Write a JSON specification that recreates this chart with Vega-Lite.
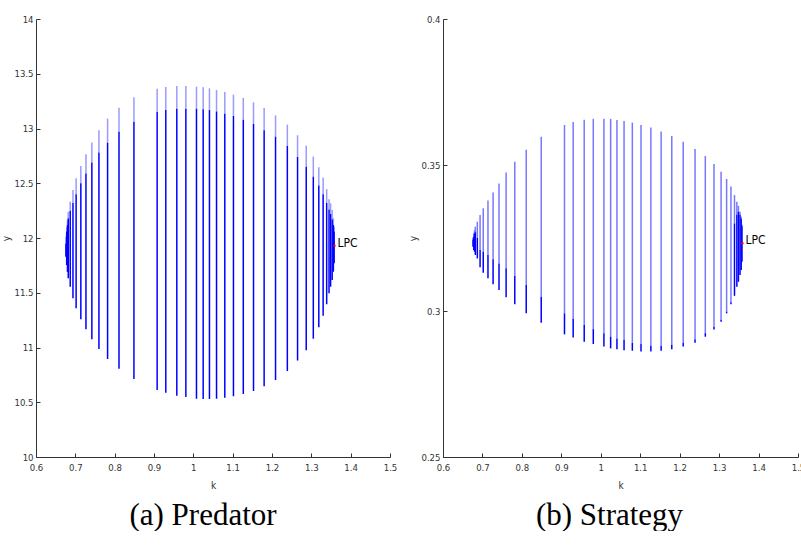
{
  "$schema": "https://vega.github.io/schema/vega-lite/v6.json",
  "background": "white",
  "padding": {"left": 1, "top": 14, "right": 0, "bottom": 0},
  "bounds": "flush",
  "spacing": 53,
  "config": {
    "view": {"stroke": null},
    "axis": {
      "grid": false,
      "domainColor": "#333333",
      "tickColor": "#333333",
      "labelColor": "#333333",
      "titleColor": "#333333",
      "labelFont": "Liberation Sans Narrow, DejaVu Sans Condensed, Liberation Sans",
      "titleFont": "Liberation Sans Narrow, DejaVu Sans Condensed, Liberation Sans",
      "labelFontSize": 9.5,
      "titleFontSize": 10,
      "titleFontWeight": "normal",
      "labelOverlap": false,
      "labelFlush": false,
      "tickSize": -4,
      "tickWidth": 1,
      "domainWidth": 1
    },
    "axisX": {"labelPadding": 9, "titlePadding": 9},
    "axisY": {"labelPadding": 7, "titlePadding": 2}
  },
  "datasets": {
    "pred": [
      {"k": 0.676, "ymin": 11.829, "ymid": 11.95, "ymax": 12.012},
      {"k": 0.678, "ymin": 11.753, "ymid": 12.06, "ymax": 12.098},
      {"k": 0.680, "ymin": 11.690, "ymid": 12.12, "ymax": 12.164},
      {"k": 0.682, "ymin": 11.632, "ymid": 12.18, "ymax": 12.240},
      {"k": 0.687, "ymin": 11.555, "ymid": 12.25, "ymax": 12.332},
      {"k": 0.694, "ymin": 11.449, "ymid": 12.32, "ymax": 12.438},
      {"k": 0.702, "ymin": 11.358, "ymid": 12.40, "ymax": 12.545},
      {"k": 0.714, "ymin": 11.257, "ymid": 12.50, "ymax": 12.658},
      {"k": 0.727, "ymin": 11.166, "ymid": 12.59, "ymax": 12.764},
      {"k": 0.742, "ymin": 11.075, "ymid": 12.69, "ymax": 12.872},
      {"k": 0.760, "ymin": 10.986, "ymid": 12.78, "ymax": 12.983},
      {"k": 0.782, "ymin": 10.895, "ymid": 12.87, "ymax": 13.090},
      {"k": 0.811, "ymin": 10.806, "ymid": 12.97, "ymax": 13.190},
      {"k": 0.849, "ymin": 10.712, "ymid": 13.06, "ymax": 13.285},
      {"k": 0.908, "ymin": 10.612, "ymid": 13.15, "ymax": 13.364},
      {"k": 0.930, "ymin": 10.587, "ymid": 13.17, "ymax": 13.379},
      {"k": 0.958, "ymin": 10.560, "ymid": 13.18, "ymax": 13.388},
      {"k": 0.981, "ymin": 10.548, "ymid": 13.18, "ymax": 13.388},
      {"k": 1.008, "ymin": 10.533, "ymid": 13.18, "ymax": 13.382},
      {"k": 1.025, "ymin": 10.530, "ymid": 13.175, "ymax": 13.376},
      {"k": 1.041, "ymin": 10.530, "ymid": 13.17, "ymax": 13.367},
      {"k": 1.059, "ymin": 10.533, "ymid": 13.155, "ymax": 13.352},
      {"k": 1.080, "ymin": 10.542, "ymid": 13.135, "ymax": 13.333},
      {"k": 1.102, "ymin": 10.554, "ymid": 13.115, "ymax": 13.309},
      {"k": 1.127, "ymin": 10.575, "ymid": 13.08, "ymax": 13.279},
      {"k": 1.153, "ymin": 10.603, "ymid": 13.04, "ymax": 13.239},
      {"k": 1.180, "ymin": 10.645, "ymid": 12.985, "ymax": 13.187},
      {"k": 1.209, "ymin": 10.703, "ymid": 12.925, "ymax": 13.120},
      {"k": 1.239, "ymin": 10.785, "ymid": 12.84, "ymax": 13.035},
      {"k": 1.265, "ymin": 10.881, "ymid": 12.74, "ymax": 12.938},
      {"k": 1.287, "ymin": 10.975, "ymid": 12.65, "ymax": 12.843},
      {"k": 1.305, "ymin": 11.080, "ymid": 12.56, "ymax": 12.743},
      {"k": 1.319, "ymin": 11.185, "ymid": 12.48, "ymax": 12.646},
      {"k": 1.330, "ymin": 11.290, "ymid": 12.40, "ymax": 12.551},
      {"k": 1.339, "ymin": 11.395, "ymid": 12.32, "ymax": 12.446},
      {"k": 1.345, "ymin": 11.495, "ymid": 12.26, "ymax": 12.353},
      {"k": 1.349, "ymin": 11.555, "ymid": 12.22, "ymax": 12.317},
      {"k": 1.353, "ymin": 11.616, "ymid": 12.17, "ymax": 12.256},
      {"k": 1.356, "ymin": 11.692, "ymid": 12.12, "ymax": 12.180},
      {"k": 1.358, "ymin": 11.769, "ymid": 12.06, "ymax": 12.103}
    ],
    "strat": [
      {"k": 0.676, "ymin": 0.3220, "ymid": 0.3245, "ymax": 0.3252},
      {"k": 0.678, "ymin": 0.3209, "ymid": 0.3255, "ymax": 0.3266},
      {"k": 0.680, "ymin": 0.3203, "ymid": 0.3265, "ymax": 0.3277},
      {"k": 0.682, "ymin": 0.3192, "ymid": 0.3270, "ymax": 0.3289},
      {"k": 0.687, "ymin": 0.3180, "ymid": 0.3250, "ymax": 0.3306},
      {"k": 0.694, "ymin": 0.3150, "ymid": 0.3209, "ymax": 0.3329},
      {"k": 0.702, "ymin": 0.3131, "ymid": 0.3203, "ymax": 0.3352},
      {"k": 0.714, "ymin": 0.3112, "ymid": 0.3192, "ymax": 0.3378},
      {"k": 0.727, "ymin": 0.3092, "ymid": 0.3177, "ymax": 0.3406},
      {"k": 0.742, "ymin": 0.3072, "ymid": 0.3163, "ymax": 0.3437},
      {"k": 0.760, "ymin": 0.3047, "ymid": 0.3146, "ymax": 0.3474},
      {"k": 0.782, "ymin": 0.3023, "ymid": 0.3120, "ymax": 0.3511},
      {"k": 0.811, "ymin": 0.2992, "ymid": 0.3089, "ymax": 0.3552},
      {"k": 0.849, "ymin": 0.2960, "ymid": 0.3049, "ymax": 0.3597},
      {"k": 0.908, "ymin": 0.2920, "ymid": 0.2992, "ymax": 0.3637},
      {"k": 0.930, "ymin": 0.2909, "ymid": 0.2973, "ymax": 0.3647},
      {"k": 0.958, "ymin": 0.2895, "ymid": 0.2952, "ymax": 0.3655},
      {"k": 0.981, "ymin": 0.2887, "ymid": 0.2938, "ymax": 0.3658},
      {"k": 1.008, "ymin": 0.2878, "ymid": 0.2924, "ymax": 0.3658},
      {"k": 1.025, "ymin": 0.2872, "ymid": 0.2912, "ymax": 0.3658},
      {"k": 1.041, "ymin": 0.2869, "ymid": 0.2906, "ymax": 0.3654},
      {"k": 1.059, "ymin": 0.2866, "ymid": 0.2901, "ymax": 0.3651},
      {"k": 1.080, "ymin": 0.2864, "ymid": 0.2891, "ymax": 0.3645},
      {"k": 1.102, "ymin": 0.2861, "ymid": 0.2887, "ymax": 0.3637},
      {"k": 1.127, "ymin": 0.2861, "ymid": 0.2881, "ymax": 0.3628},
      {"k": 1.153, "ymin": 0.2864, "ymid": 0.2880, "ymax": 0.3615},
      {"k": 1.180, "ymin": 0.2869, "ymid": 0.2884, "ymax": 0.3599},
      {"k": 1.209, "ymin": 0.2878, "ymid": 0.2891, "ymax": 0.3580},
      {"k": 1.239, "ymin": 0.2891, "ymid": 0.2903, "ymax": 0.3555},
      {"k": 1.265, "ymin": 0.2912, "ymid": 0.2924, "ymax": 0.3531},
      {"k": 1.287, "ymin": 0.2937, "ymid": 0.2946, "ymax": 0.3503},
      {"k": 1.305, "ymin": 0.2963, "ymid": 0.2970, "ymax": 0.3477},
      {"k": 1.319, "ymin": 0.2992, "ymid": 0.2998, "ymax": 0.3452},
      {"k": 1.330, "ymin": 0.3023, "ymid": 0.3030, "ymax": 0.3426},
      {"k": 1.339, "ymin": 0.3052, "ymid": 0.3300, "ymax": 0.3397},
      {"k": 1.345, "ymin": 0.3083, "ymid": 0.3330, "ymax": 0.3374},
      {"k": 1.349, "ymin": 0.3100, "ymid": 0.3340, "ymax": 0.3360},
      {"k": 1.353, "ymin": 0.3123, "ymid": 0.3330, "ymax": 0.3340},
      {"k": 1.356, "ymin": 0.3140, "ymid": 0.3315, "ymax": 0.3323},
      {"k": 1.358, "ymin": 0.3169, "ymid": 0.3290, "ymax": 0.3295}
    ],
    "lpcPred": [{"k": 1.359, "y": 11.93, "label": "LPC"}],
    "lpcStrat": [{"k": 1.359, "y": 0.3232, "label": "LPC"}]
  },
  "hconcat": [
    {
      "width": 354,
      "height": 438,
      "title": {"text": "(a) Predator", "orient": "bottom", "anchor": "middle", "font": "Liberation Serif", "fontSize": 31, "fontWeight": "normal", "color": "black", "offset": 10, "dx": -10},
      "layer": [
        {
          "data": {"name": "pred"},
          "mark": {"type": "rule", "color": "#9a9aff", "strokeWidth": 1.5},
          "encoding": {
            "x": {"field": "k", "type": "quantitative", "scale": {"domain": [0.6, 1.5], "nice": false, "zero": false}, "axis": {"title": "k", "values": [0.6, 0.7, 0.8, 0.9, 1, 1.1, 1.2, 1.3, 1.4, 1.5], "tickCount": 20, "format": "~f", "labelOverlap": false, "labelFlush": false}},
            "y": {"field": "ymid", "type": "quantitative", "scale": {"domain": [10, 14], "nice": false, "zero": false}, "axis": {"title": "y", "values": [10, 10.5, 11, 11.5, 12, 12.5, 13, 13.5, 14], "tickCount": 20, "format": "~f", "labelOverlap": false, "labelFlush": false}},
            "y2": {"field": "ymax"}
          }
        },
        {
          "data": {"name": "pred"},
          "mark": {"type": "rule", "color": "#0000ff", "strokeWidth": 1.5},
          "encoding": {
            "x": {"field": "k", "type": "quantitative"},
            "y": {"field": "ymin", "type": "quantitative"},
            "y2": {"field": "ymid"}
          }
        },
        {
          "data": {"name": "lpcPred"},
          "mark": {"type": "point", "filled": true, "color": "red", "size": 6, "opacity": 1},
          "encoding": {
            "x": {"field": "k", "type": "quantitative"},
            "y": {"field": "y", "type": "quantitative"}
          }
        },
        {
          "data": {"name": "lpcPred"},
          "mark": {"type": "text", "align": "left", "baseline": "middle", "dx": 3, "dy": -3, "font": "Liberation Sans Narrow, DejaVu Sans Condensed, Liberation Sans", "fontSize": 12, "color": "black"},
          "encoding": {
            "x": {"field": "k", "type": "quantitative"},
            "y": {"field": "y", "type": "quantitative"},
            "text": {"field": "label"}
          }
        }
      ]
    },
    {
      "width": 355,
      "height": 438,
      "title": {"text": "(b) Strategy", "orient": "bottom", "anchor": "middle", "font": "Liberation Serif", "fontSize": 31, "fontWeight": "normal", "color": "black", "offset": 10, "dx": -11},
      "layer": [
        {
          "data": {"name": "strat"},
          "mark": {"type": "rule", "color": "#7878ff", "strokeWidth": 1.5},
          "encoding": {
            "x": {"field": "k", "type": "quantitative", "scale": {"domain": [0.6, 1.5], "nice": false, "zero": false}, "axis": {"title": "k", "values": [0.6, 0.7, 0.8, 0.9, 1, 1.1, 1.2, 1.3, 1.4, 1.5], "tickCount": 20, "format": "~f", "labelOverlap": false, "labelFlush": false}},
            "y": {"field": "ymid", "type": "quantitative", "scale": {"domain": [0.25, 0.4], "nice": false, "zero": false}, "axis": {"title": "y", "values": [0.25, 0.3, 0.35, 0.4], "tickCount": 20, "format": "~f", "labelOverlap": false, "labelFlush": false}},
            "y2": {"field": "ymax"}
          }
        },
        {
          "data": {"name": "strat"},
          "mark": {"type": "rule", "color": "#0000ff", "strokeWidth": 1.5},
          "encoding": {
            "x": {"field": "k", "type": "quantitative"},
            "y": {"field": "ymin", "type": "quantitative"},
            "y2": {"field": "ymid"}
          }
        },
        {
          "data": {"name": "lpcStrat"},
          "mark": {"type": "point", "filled": true, "color": "red", "size": 6, "opacity": 1},
          "encoding": {
            "x": {"field": "k", "type": "quantitative"},
            "y": {"field": "y", "type": "quantitative"}
          }
        },
        {
          "data": {"name": "lpcStrat"},
          "mark": {"type": "text", "align": "left", "baseline": "middle", "dx": 3, "dy": -3, "font": "Liberation Sans Narrow, DejaVu Sans Condensed, Liberation Sans", "fontSize": 12, "color": "black"},
          "encoding": {
            "x": {"field": "k", "type": "quantitative"},
            "y": {"field": "y", "type": "quantitative"},
            "text": {"field": "label"}
          }
        }
      ]
    }
  ]
}
